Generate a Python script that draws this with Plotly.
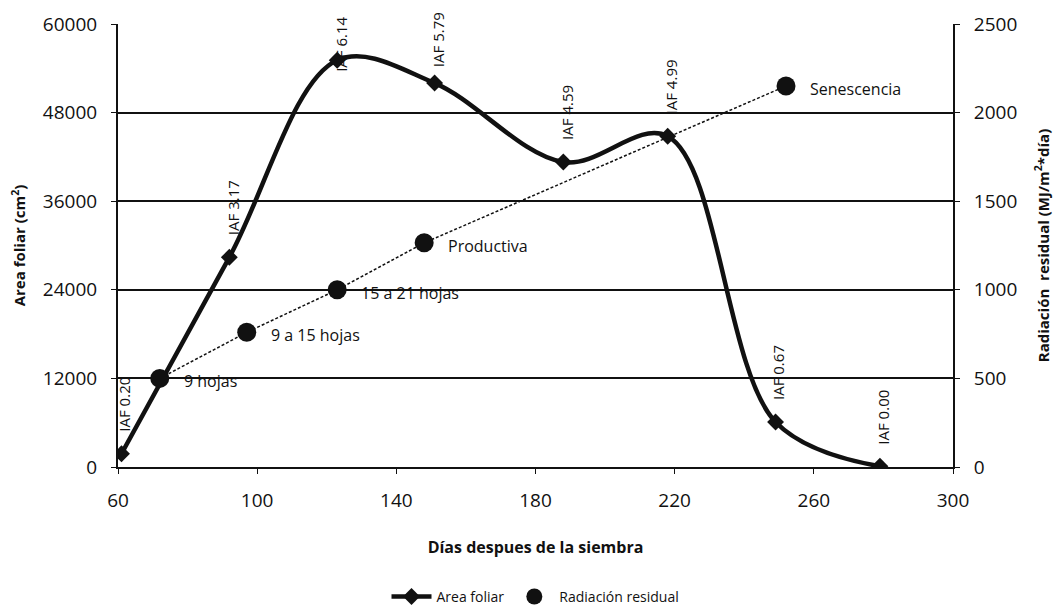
import plotly.graph_objects as go

# Area foliar (cm2) vs days after sowing
dias_af = [61, 92, 123, 151, 188, 218, 249, 279]
area_foliar = [1800, 28400, 55100, 52000, 41300, 44800, 6100, 100]
iaf_labels = ["IAF 0.20", "IAF 3.17", "IAF 6.14", "IAF 5.79",
              "IAF 4.59", "IAF 4.99", "IAF 0.67", "IAF 0.00"]

# Radiación residual (MJ/m2*día)
dias_rad = [72, 97, 123, 148, 252]
radiacion = [500, 760, 1000, 1265, 2150]
etapas = ["9 hojas", "9 a 15 hojas", "15 a 21 hojas", "Productiva", "Senescencia"]

FONT = "Open Sans"
BLACK = "#111111"

fig = go.Figure()

# dotted connector for radiation points
fig.add_trace(go.Scatter(
    x=dias_rad, y=radiacion, yaxis="y2", mode="lines",
    line=dict(color=BLACK, width=1.5, dash="3px,2px"),
    showlegend=False, hoverinfo="skip",
))

fig.add_trace(go.Scatter(
    x=dias_af, y=area_foliar, mode="lines+markers", name="Area foliar",
    line=dict(color=BLACK, width=4.5, shape="spline", smoothing=1.0),
    marker=dict(symbol="diamond", size=13, color=BLACK),
))

fig.add_trace(go.Scatter(
    x=dias_rad, y=radiacion, yaxis="y2", mode="markers",
    name="Radiación residual",
    marker=dict(symbol="circle", size=19, color=BLACK),
))

# IAF labels, rotated, above each point (the top ones squeezed under the frame)
label_shift = {"IAF 6.14": -14, "IAF 5.79": 14}
for x, y, t in zip(dias_af, area_foliar, iaf_labels):
    fig.add_annotation(
        x=x, y=y, xref="x", yref="y", text=t, showarrow=False,
        textangle=-90, yanchor="bottom", xanchor="center",
        yshift=label_shift.get(t, 20), xshift=3,
        font=dict(family=FONT, size=15, color=BLACK),
    )

# phenological stage labels beside radiation points
for x, y, t in zip(dias_rad, radiacion, etapas):
    fig.add_annotation(
        x=x, y=y, xref="x", yref="y2", text=t, showarrow=False,
        xanchor="left", yanchor="middle", xshift=22, yshift=-3,
        font=dict(family=FONT, size=16, color=BLACK),
    )

tick_font = dict(family=FONT, size=19, color=BLACK)
title_font = dict(family=FONT, size=15, color=BLACK)

# page body adds an 8px margin, so the figure is 8px smaller and shifted
fig.update_layout(
    width=1056, height=604,
    paper_bgcolor="white", plot_bgcolor="white",
    font=dict(family=FONT, color=BLACK, size=18),
    margin=dict(l=110, r=111, t=16, b=145),
    xaxis=dict(
        range=[60, 300], dtick=40, tick0=60, automargin=False,
        showgrid=False, zeroline=False,
        showline=True, linecolor=BLACK, linewidth=2,
        ticks="outside", ticklen=5, tickcolor=BLACK,
        ticklabelstandoff=10, tickfont=tick_font,
        title=dict(text="<b>Días despues de la siembra</b>",
                   font=dict(family=FONT, size=16, color=BLACK), standoff=30),
    ),
    yaxis=dict(
        range=[0, 60000], dtick=12000, tickformat="d", automargin=False,
        showgrid=True, gridcolor=BLACK, gridwidth=1.5, zeroline=False,
        showline=True, linecolor=BLACK, linewidth=2,
        ticks="outside", ticklen=5, tickcolor=BLACK,
        ticklabelstandoff=10, tickfont=tick_font,
        title=dict(text="<b>Area foliar (cm<sup>2</sup>)</b>",
                   font=title_font, standoff=20),
    ),
    yaxis2=dict(
        range=[0, 2500], dtick=500, tickformat="d", overlaying="y",
        side="right", automargin=False,
        showgrid=False, zeroline=False,
        showline=True, linecolor=BLACK, linewidth=2,
        ticks="outside", ticklen=5, tickcolor=BLACK,
        ticklabelstandoff=10, tickfont=tick_font,
        title=dict(text="<b>Radiación  residual (MJ/m<sup>2</sup>*día)</b>",
                   font=title_font, standoff=22),
    ),
    legend=dict(
        orientation="h", x=0.5, xanchor="center",
        yref="container", y=0.025, yanchor="middle",
        font=dict(family=FONT, size=14, color=BLACK),
        bgcolor="rgba(0,0,0,0)", itemwidth=40,
    ),
)

fig.write_html("out.html")
